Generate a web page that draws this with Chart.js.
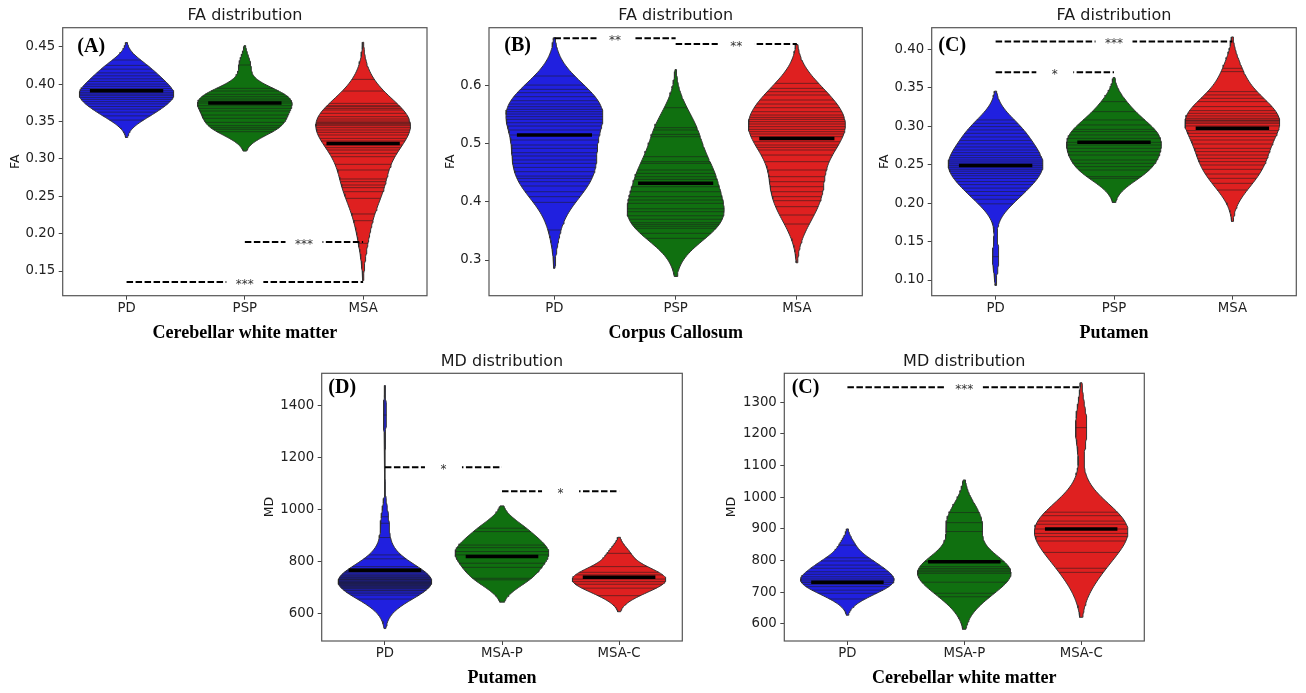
<!DOCTYPE html>
<html><head><meta charset="utf-8">
<script src="https://cdn.jsdelivr.net/npm/chart.js@4.4.0/dist/chart.umd.min.js"></script>
<style>
html,body{margin:0;padding:0;background:#fff;}
#wrap{position:relative;width:1306px;height:693px;overflow:hidden;background:#fff;}
#wrap canvas{position:absolute;left:0;top:0;}
</style></head>
<body><div id="wrap"></div>
<script>
// ---------- categories ----------
const faGroups = ['PD', 'PSP', 'MSA'];
const mdGroups = ['PD', 'MSA-P', 'MSA-C'];

// ---------- (A) FA, cerebellar white matter: observations ----------
const faCwmPD  = [0.4322,0.4250,0.4200,0.4150,0.4110,0.4070,0.4035,0.4000,0.3970,0.3940,0.3911,0.3885,0.3865,0.3845,0.3820,0.3795,0.3765,0.3735,0.3700,0.3665,0.3625,0.3575,0.3519];
const faCwmPSP = [0.4255,0.3943,0.3907,0.3863,0.3831,0.3800,0.3773,0.3747,0.3711,0.3675,0.3640,0.3586,0.3542,0.3488,0.3444,0.3417,0.3395,0.3363];
const faCwmMSA = [0.4063,0.3907,0.3742,0.3711,0.3698,0.3675,0.3653,0.3609,0.3564,0.3533,0.3506,0.3488,0.3475,0.3462,0.3444,0.3417,0.3386,0.3355,0.3319,0.3274,0.3239,0.3185,0.3150,0.3118,0.3074,0.3029,0.2927,0.2851,0.2731,0.2695,0.2650,0.2615,0.2561,0.2472,0.2263,0.2173,0.1870];
const faCwmMeans = [0.3911, 0.3747, 0.3207];
const faCwmTicks = [0.15, 0.20, 0.25, 0.30, 0.35, 0.40, 0.45];
const faCwmSig = [[0, 2, 0.1353, '***'], [1, 2, 0.1888, '***']];

// ---------- (B) FA, corpus callosum ----------
const faCcPD  = [0.6160,0.6005,0.5931,0.5874,0.5805,0.5736,0.5679,0.5633,0.5588,0.5547,0.5507,0.5462,0.5416,0.5358,0.5301,0.5233,0.5147,0.5061,0.4975,0.4918,0.4843,0.4786,0.4718,0.4660,0.4591,0.4517,0.4442,0.4402,0.4345,0.4271,0.4173,0.4088,0.3990,0.3515];
const faCcPSP = [0.5616,0.5273,0.5233,0.5158,0.5118,0.4775,0.4689,0.4660,0.4546,0.4488,0.4431,0.4385,0.4259,0.4173,0.4088,0.4030,0.3973,0.3880,0.3830,0.3760,0.3700,0.3641,0.3612,0.3580,0.3544,0.3458,0.3372];
const faCcMSA = [0.6034,0.5948,0.5891,0.5834,0.5748,0.5679,0.5616,0.5547,0.5490,0.5450,0.5416,0.5376,0.5336,0.5290,0.5244,0.5204,0.5164,0.5118,0.5032,0.4975,0.4935,0.4889,0.4803,0.4689,0.4546,0.4431,0.4345,0.4259,0.4173,0.4088,0.4019,0.3916,0.3773,0.3618];
const faCcMeans = [0.5147, 0.4317, 0.5089];
const faCcTicks = [0.3, 0.4, 0.5, 0.6];
const faCcSig = [[0, 1, 0.6807, '**'], [1, 2, 0.6709, '**']];

// ---------- (C) FA, putamen ----------
const faPutPD  = [0.3081,0.3037,0.2994,0.2951,0.2907,0.2860,0.2815,0.2770,0.2730,0.2690,0.2655,0.2620,0.2590,0.2560,0.2535,0.2510,0.2487,0.2465,0.2440,0.2415,0.2385,0.2355,0.2320,0.2280,0.2240,0.2195,0.2150,0.2100,0.2050,0.1990,0.1303];
const faPutPSP = [0.3319,0.3189,0.3081,0.3016,0.2959,0.2929,0.2886,0.2842,0.2790,0.2755,0.2712,0.2669,0.2625,0.2560,0.2517,0.2474,0.2430,0.2344,0.2322];
const faPutMSA = [0.3752,0.3709,0.3449,0.3406,0.3362,0.3319,0.3254,0.3202,0.3167,0.3133,0.3102,0.3080,0.3072,0.3055,0.3037,0.3003,0.2942,0.2907,0.2864,0.2820,0.2768,0.2712,0.2669,0.2625,0.2582,0.2539,0.2495,0.2439,0.2378,0.2322,0.2257,0.2170];
const faPutMeans = [0.2487, 0.2790, 0.2972];
const faPutTicks = [0.10, 0.15, 0.20, 0.25, 0.30, 0.35, 0.40];
const faPutSig = [[0, 2, 0.4099, '***'], [0, 1, 0.3700, '*']];

// ---------- (D) MD, putamen ----------
const mdPutPD   = [1364,972,947,892,825,810,780,772,765,760,758,752,748,745,741,738,735,732,730,728,725,722,720,718,716,714,712,710,707,705,702,700,697,695,690,688,682,677,670,655];
const mdPutMSAP = [928,915,863,853,838,825,793,777,735,729];
const mdPutMSAC = [831,780,758,748,732,722,712,697,668];
const mdPutMeans = [765.9, 818.5, 738.9];
const mdPutTicks = [600, 800, 1000, 1200, 1400];
const mdPutSig = [[0, 1, 1162.7, '*'], [1, 2, 1070.3, '*']];

// ---------- (C) MD, cerebellar white matter ----------
const mdCwmPD   = [849,809,799,786,776,765,757,749,742,736,731,725,718,707,697,679];
const mdCwmMSAP = [952,920,892,797,781,775,770,765,760,732,697,686];
const mdCwmMSAC = [1220,953,942,925,915,900,886,876,862,826,776,763];
const mdCwmMeans = [731.5, 796.8, 900.0];
const mdCwmTicks = [600, 700, 800, 900, 1000, 1100, 1200, 1300];
const mdCwmSig = [[0, 2, 1347.4, '***']];

// ---------- styles ----------
const violinColors = ['#2020df', '#107010', '#df2020'];
const HALF = 0.4;     // half violin width in category units
const MEAN_HALF = 0.31;

// ---------- panels (layout config) ----------
const panels = [
  {title:'FA distribution', yTitle:'FA', xTitle:'Cerebellar white matter', label:'(A)', groups:faGroups,
   series:[faCwmPD, faCwmPSP, faCwmMSA], means:faCwmMeans, ticks:faCwmTicks, dec:2, sig:faCwmSig,
   area:{l:62.7,t:27.7,r:427,b:295.7}, yMin:0.117, yMax:0.4754, labelDx:14.6, labelCy:47, yTitleX:15.3},
  {title:'FA distribution', yTitle:'FA', xTitle:'Corpus Callosum', label:'(B)', groups:faGroups,
   series:[faCcPD, faCcPSP, faCcMSA], means:faCcMeans, ticks:faCcTicks, dec:1, sig:faCcSig,
   area:{l:489,t:27.7,r:862.3,b:295.7}, yMin:0.2387, yMax:0.699, labelDx:15.3, labelCy:46, yTitleX:450.7},
  {title:'FA distribution', yTitle:'FA', xTitle:'Putamen', label:'(C)', groups:faGroups,
   series:[faPutPD, faPutPSP, faPutMSA], means:faPutMeans, ticks:faPutTicks, dec:2, sig:faPutSig,
   area:{l:931.7,t:27.7,r:1296.3,b:295.7}, yMin:0.0796, yMax:0.428, labelDx:6.6, labelCy:46, yTitleX:885},
  {title:'MD distribution', yTitle:'MD', xTitle:'Putamen', label:'(D)', groups:mdGroups,
   series:[mdPutPD, mdPutMSAP, mdPutMSAC], means:mdPutMeans, ticks:mdPutTicks, dec:0, sig:mdPutSig,
   area:{l:321.7,t:373.3,r:682.3,b:641}, yMin:493.3, yMax:1524.8, labelDx:6.6, labelCy:388.3, yTitleX:270},
  {title:'MD distribution', yTitle:'MD', xTitle:'Cerebellar white matter', label:'(C)', groups:mdGroups,
   series:[mdCwmPD, mdCwmMSAP, mdCwmMSAC], means:mdCwmMeans, ticks:mdCwmTicks, dec:0, sig:mdCwmSig,
   area:{l:784.3,t:373.3,r:1144.3,b:641}, yMin:546.3, yMax:1391.6, labelDx:7.4, labelCy:388.3, yTitleX:732}
];

// ---------- KDE (seaborn-like: Scott bandwidth, cut = 2, 100 grid points) ----------
function kde(values) {
  const n = values.length;
  const mean = values.reduce((s, v) => s + v, 0) / n;
  const sd = Math.sqrt(values.reduce((s, v) => s + (v - mean) * (v - mean), 0) / (n - 1));
  const bw = sd * Math.pow(n, -0.2);
  const lo = Math.min(...values) - 2 * bw, hi = Math.max(...values) + 2 * bw;
  const dens = y => values.reduce((s, v) => s + Math.exp(-0.5 * ((y - v) / bw) ** 2), 0);
  const grid = [];
  for (let i = 0; i < 100; i++) { const y = lo + (hi - lo) * i / 99; grid.push([y, dens(y)]); }
  const max = Math.max(...grid.map(g => g[1]));
  return {grid, max, dens};
}

const W = 1306, H = 693, YW = 50, XH = 30;
const wrap = document.getElementById('wrap');

const decor = {
  id: 'decor',
  afterDatasetsDraw(chart, args, opts) {
    const p = opts.panel, ctx = chart.ctx, xs = chart.scales.x, ys = chart.scales.y;
    p.sig.forEach(([g1, g2, lvl, txt]) => {
      const x = xs.getPixelForValue((g1 + g2) / 2), y = ys.getPixelForValue(lvl);
      ctx.save();
      ctx.fillStyle = '#fff';
      ctx.fillRect(x - 18.5, y - 3, 37, 6);
      ctx.fillStyle = '#333';
      ctx.font = '12px "DejaVu Sans"';
      ctx.textAlign = 'center'; ctx.textBaseline = 'middle';
      ctx.fillText(txt, x, y + 2.7);
      ctx.restore();
    });
  },
  afterDraw(chart, args, opts) {
    const p = opts.panel, ctx = chart.ctx, a = chart.chartArea;
    ctx.save();
    ctx.strokeStyle = '#555'; ctx.lineWidth = 1.2;
    ctx.strokeRect(a.left, a.top, a.right - a.left, a.bottom - a.top);
    ctx.fillStyle = '#1a1a1a';
    ctx.textAlign = 'center'; ctx.textBaseline = 'middle';
    ctx.font = '16px "DejaVu Sans"';
    ctx.fillText(p.title, (a.left + a.right) / 2, a.top - 11.7);
    ctx.font = 'bold 18px "Liberation Serif"';
    ctx.fillStyle = '#000';
    ctx.fillText(p.xTitle, (a.left + a.right) / 2, a.bottom + 37.3);
    ctx.textAlign = 'left';
    ctx.font = 'bold 20px "Liberation Serif"';
    ctx.fillText(p.label, a.left + p.labelDx, p.labelCy);
    ctx.translate(p.yTitleX, (a.top + a.bottom) / 2);
    ctx.rotate(-Math.PI / 2);
    ctx.textAlign = 'center';
    ctx.font = '12.5px "DejaVu Sans"';
    ctx.fillStyle = '#1a1a1a';
    ctx.fillText(p.yTitle, 0, 0);
    ctx.restore();
  }
};

panels.forEach(p => {
  const cv = document.createElement('canvas');
  cv.width = W; cv.height = H; cv.style.width = W + 'px'; cv.style.height = H + 'px';
  wrap.appendChild(cv);
  const datasets = [];
  p.series.forEach((vals, gi) => {
    const k = kde(vals);
    const right = k.grid.map(([y, d]) => ({x: gi + HALF * d / k.max, y}));
    const left = k.grid.slice().reverse().map(([y, d]) => ({x: gi - HALF * d / k.max, y}));
    const outline = right.concat(left, [right[0]]);
    datasets.push({data: outline, showLine: true, fill: 'shape', backgroundColor: violinColors[gi],
      borderColor: '#333', borderWidth: 1, pointRadius: 0, pointHoverRadius: 0, tension: 0, order: 3});
    const sticks = [];
    vals.forEach(v => {
      const w = HALF * k.dens(v) / k.max;
      sticks.push({x: gi - w, y: v}, {x: gi + w, y: v}, {x: null, y: null});
    });
    datasets.push({data: sticks, showLine: true, fill: false, borderColor: 'rgba(30,30,30,0.55)',
      borderWidth: 1, pointRadius: 0, pointHoverRadius: 0, spanGaps: false, order: 2});
    datasets.push({data: [{x: gi - MEAN_HALF, y: p.means[gi]}, {x: gi + MEAN_HALF, y: p.means[gi]}],
      showLine: true, fill: false, borderColor: '#000', borderWidth: 3.5, pointRadius: 0, pointHoverRadius: 0, order: 1});
  });
  p.sig.forEach(([g1, g2, lvl]) => {
    datasets.push({data: [{x: g1, y: lvl}, {x: g2, y: lvl}], showLine: true, fill: false,
      borderColor: '#000', borderWidth: 2, borderDash: [6.5, 2.5], pointRadius: 0, pointHoverRadius: 0, order: 0});
  });
  const a = p.area;
  new Chart(cv, {
    type: 'scatter',
    data: {datasets},
    options: {
      responsive: false, animation: false, events: [],
      devicePixelRatio: 1,
      layout: {padding: {left: a.l - YW, top: a.t, right: W - a.r, bottom: H - a.b - XH}},
      plugins: {legend: {display: false}, tooltip: {enabled: false}, title: {display: false}, decor: {panel: p}},
      scales: {
        x: {
          type: 'linear', min: -0.54, max: 2.54,
          afterBuildTicks: s => { s.ticks = p.groups.map((g, i) => ({value: i})); },
          afterFit: s => { s.height = XH; },
          ticks: {callback: v => p.groups[v] ?? '', font: {family: 'DejaVu Sans', size: 13.3}, color: '#222', padding: 1, maxRotation: 0, autoSkip: false},
          grid: {drawOnChartArea: false, drawTicks: true, tickLength: 4, color: '#444'},
          border: {display: false}
        },
        y: {
          type: 'linear', min: p.yMin, max: p.yMax,
          afterBuildTicks: s => { s.ticks = p.ticks.map(v => ({value: v})); },
          afterFit: s => { s.width = YW; },
          ticks: {callback: v => Number(v).toFixed(p.dec), font: {family: 'DejaVu Sans', size: 13.3}, color: '#222', padding: 3.5, autoSkip: false},
          grid: {drawOnChartArea: false, drawTicks: true, tickLength: 4, color: '#444'},
          border: {display: false}
        }
      }
    },
    plugins: [decor]
  });
});
</script>
</body></html>
